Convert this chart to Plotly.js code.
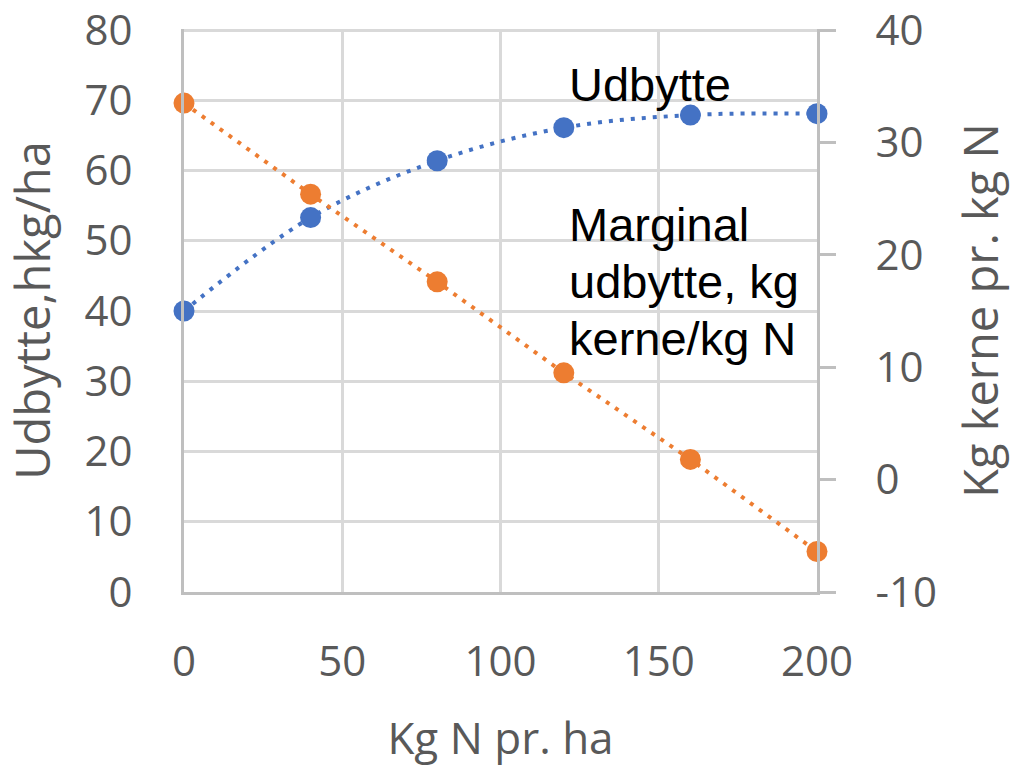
<!DOCTYPE html>
<html>
<head>
<meta charset="utf-8">
<script src="https://cdn.plot.ly/plotly-3.0.1.min.js"></script>
<style>html,body{margin:0;padding:0;background:#fff;}#chart{width:1017px;height:767px;}</style>
</head>
<body>
<div id="chart"></div>
<script>
// Data
const nRates = [0, 40, 80, 120, 160, 200];              // Kg N pr. ha
const udbytte = [40.0, 53.3, 61.4, 66.1, 67.9, 68.1];   // hkg/ha (left axis)
const marginal = [33.5, 25.4, 17.6, 9.5, 1.8, -6.4];   // kg kerne / kg N (right axis)
const xTicks = [0, 50, 100, 150, 200];
const yLeftTicks = [0, 10, 20, 30, 40, 50, 60, 70, 80];
const yRightTicks = [-10, 0, 10, 20, 30, 40];
const labelLines = ['Marginal', 'udbytte, kg', 'kerne/kg N'];
const labelLineY = [52.3, 44.2, 36.1];

const blue = '#4472C4';
const orange = '#ED7D31';
const tickFont = {family: 'Open Sans, sans-serif', size: 42, color: '#595959'};
const xTitleFont = {family: 'Open Sans, sans-serif', size: 44, color: '#595959'};
const yTitleFont = {family: 'Open Sans, sans-serif', size: 47, color: '#595959'};
const noteFont = {family: 'Liberation Sans, Arial, sans-serif', size: 47, color: '#000000'};

// tiny headroom so the top gridline at 80 is drawn (Plotly drops grid lines exactly on the edge)
const leftTop = 80.15;
const rightTop = -10 + 50 * leftTop / 80;

const traces = [
  {
    x: nRates, y: udbytte, type: 'scatter', mode: 'lines+markers', name: 'Udbytte',
    yaxis: 'y', cliponaxis: false,
    line: {color: blue, width: 4, dash: '4px,7px', shape: 'spline', smoothing: 1},
    marker: {color: blue, size: 21}
  },
  {
    x: nRates, y: marginal, type: 'scatter', mode: 'lines+markers', name: 'Marginal',
    yaxis: 'y2', cliponaxis: false,
    line: {color: orange, width: 4, dash: '4px,7px'},
    marker: {color: orange, size: 21}
  }
];

const annotations = [
  {
    text: 'Udbytte', x: 120.9, y: 72.2, xref: 'x', yref: 'y',
    xanchor: 'left', yanchor: 'middle', showarrow: false, font: noteFont, align: 'left'
  }
].concat(labelLines.map((t, i) => ({
  text: t, x: 120.9, y: labelLineY[i], xref: 'x', yref: 'y',
  xanchor: 'left', yanchor: 'middle', showarrow: false, font: noteFont, align: 'left'
})));

const layout = {
  width: 1017, height: 767,
  margin: {l: 184, r: 200, t: 29, b: 175},
  paper_bgcolor: '#ffffff', plot_bgcolor: '#ffffff',
  showlegend: false,
  xaxis: {
    range: [0, 200], tickvals: xTicks, ticktext: xTicks.map(String),
    showgrid: true, gridcolor: '#d9d9d9', gridwidth: 3,
    showline: true, linecolor: '#bfbfbf', linewidth: 3,
    zeroline: false, ticks: '', ticklabelstandoff: 31, ticklabeloverflow: 'allow',
    tickfont: tickFont,
    title: {text: 'Kg N pr. ha', font: xTitleFont, standoff: 48}
  },
  yaxis: {
    range: [0, leftTop], tickvals: yLeftTicks, ticktext: yLeftTicks.map(String),
    showgrid: true, gridcolor: '#d9d9d9', gridwidth: 3,
    showline: true, linecolor: '#bfbfbf', linewidth: 3,
    zeroline: false, ticks: '', ticklabelstandoff: 40, ticklabeloverflow: 'allow',
    tickfont: tickFont,
    title: {text: 'Udbytte,hkg/ha', font: yTitleFont, standoff: 20}
  },
  yaxis2: {
    range: [-10, rightTop], tickvals: yRightTicks, ticktext: yRightTicks.map(String),
    overlaying: 'y', side: 'right',
    showgrid: false, zeroline: false,
    showline: true, linecolor: '#bfbfbf', linewidth: 3,
    ticks: 'outside', ticklen: 16, tickwidth: 3, tickcolor: '#bfbfbf',
    ticklabelstandoff: 31, ticklabeloverflow: 'allow',
    tickfont: tickFont,
    title: {text: 'Kg kerne pr. kg N', font: yTitleFont, standoff: 30}
  },
  annotations: annotations
};

Plotly.newPlot('chart', traces, layout, {displayModeBar: false, staticPlot: true});
</script>
</body>
</html>
